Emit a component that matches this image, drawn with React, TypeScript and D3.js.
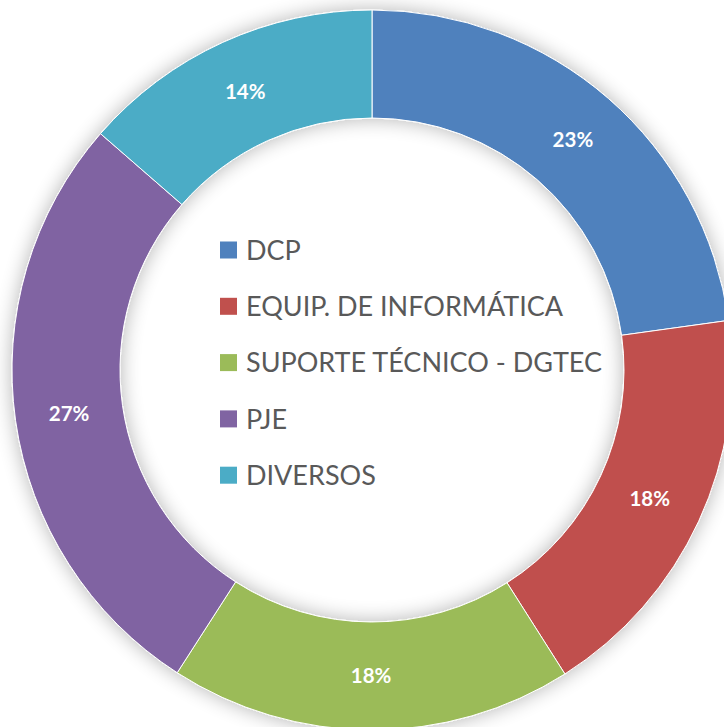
import React, { useEffect, useRef } from "react";
import * as d3 from "d3";

const categories = ["DCP", "EQUIP. DE INFORMÁTICA", "SUPORTE TÉCNICO - DGTEC", "PJE", "DIVERSOS"];
const values = [22.8, 18.2, 18.1, 27.3, 13.6];
const colors = ["#4F81BD", "#C0504D", "#9BBB59", "#8064A2", "#4BACC6"];

const W = 724;
const H = 727;

export default function App() {
  const ref = useRef<SVGSVGElement>(null);

  useEffect(() => {
    const svg = d3.select(ref.current);
    svg.selectAll("*").remove();

    const defs = svg.append("defs");
    const f = defs.append("filter").attr("id", "shadow").attr("x", "-20%").attr("y", "-20%").attr("width", "140%").attr("height", "140%");
    f.append("feGaussianBlur").attr("in", "SourceAlpha").attr("stdDeviation", 10).attr("result", "blur");
    f.append("feComponentTransfer").attr("in", "blur").attr("result", "sh")
      .append("feFuncA").attr("type", "linear").attr("slope", 0.3);
    const merge = f.append("feMerge");
    merge.append("feMergeNode").attr("in", "sh");
    merge.append("feMergeNode").attr("in", "SourceGraphic");

    const cx = 372, cy = 370, rOuter = 360, rInner = 252;
    const total = d3.sum(values);
    const pie = d3.pie<number>().sort(null).value((d) => d);
    const arcs = pie(values);
    const arc = d3.arc<d3.PieArcDatum<number>>().innerRadius(rInner).outerRadius(rOuter);

    const g = svg.append("g").attr("transform", `translate(${cx},${cy})`);
    const ring = g.append("g").attr("filter", "url(#shadow)");
    ring.selectAll("path").data(arcs).join("path")
      .attr("d", arc as any)
      .attr("fill", (_, i) => colors[i])
      .attr("stroke", "#ffffff")
      .attr("stroke-width", 1);

    g.selectAll("text.pct").data(arcs).join("text")
      .attr("class", "pct")
      .attr("transform", (d) => `translate(${arc.centroid(d)})`)
      .attr("text-anchor", "middle")
      .attr("dy", "0.36em")
      .attr("fill", "#ffffff")
      .attr("font-family", "Lato, 'Open Sans', sans-serif")
      .attr("font-weight", "bold")
      .attr("font-size", 20.5)
      .text((d) => `${Math.round((d.data / total) * 100)}%`);

    const legend = svg.append("g").attr("transform", "translate(220,250)");
    const rows = legend.selectAll("g").data(categories).join("g")
      .attr("transform", (_, i) => `translate(0,${i * 56.3})`);
    rows.append("rect").attr("x", 0).attr("y", -8.5).attr("width", 17).attr("height", 17)
      .attr("fill", (_, i) => colors[i]);
    rows.append("text").attr("x", 26).attr("y", 0).attr("dy", "0.36em")
      .attr("fill", "#595959")
      .attr("font-family", "Lato, 'Open Sans', sans-serif")
      .attr("font-size", 27)
      .text((d) => d);
  }, []);

  return (
    <svg ref={ref} width={W} height={H} style={{ position: "absolute", left: 0, top: 0, background: "#ffffff" }} />
  );
}
